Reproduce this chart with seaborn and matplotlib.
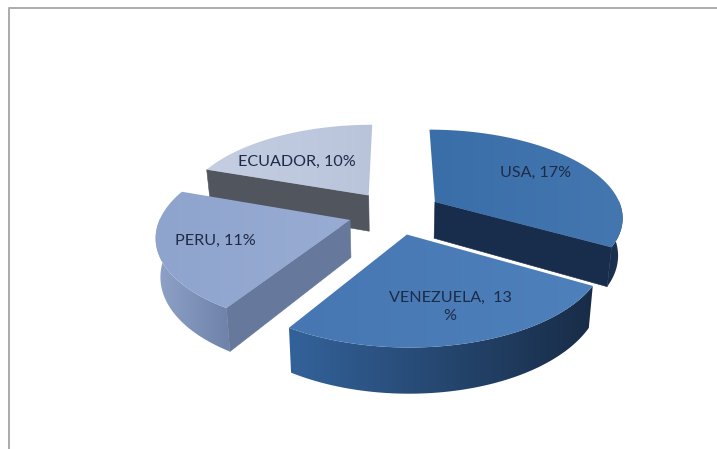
import numpy as np
import matplotlib
matplotlib.use("Agg")
import matplotlib.pyplot as plt
from matplotlib.patches import Polygon
import seaborn as sns

# -----------------------------
# DATA
# -----------------------------

countries = ["USA", "VENEZUELA", "PERU", "ECUADOR"]
percents = [17, 13, 11, 10]
label_texts = ["USA, 17%", "VENEZUELA,  13\n%", "PERU, 11%", "ECUADOR, 10%"]

# -----------------------------
# STYLE
# -----------------------------

sns.set_theme(style="white")
plt.rcParams["font.family"] = ["Lato", "DejaVu Sans"]

top_colors = [("#3A6EA8", "#4477B0"), ("#4677B3", "#4E80BC"), ("#8FA4CD", "#98ACD3"), ("#C5CEE2", "#B9C4DB")]
face_colors = ["#182C4B", None, "#66799C", "#50555E"]
arc_colors = [("#1A2E4D", "#1E3552"), ("#33629A", "#182C47"), ("#8FA3C9", "#6E82A9"), ("#50555E", "#50555E")]
label_spots = [(536, 173), (450, 307), (215, 241), (297, 162)]

# projection of the tilted pie onto the 717x449 picture
CX, CY = 395, 212.6
RX, RY = 188, 87
PERSP = 0.16
DEPTH = 37
EXPLODE = 0.25


def project(u, v, down=0.0):
    s = 1 / (1 + PERSP * v)
    x = CX + RX * u * s
    y = CY - RY * v * s + down * s
    if down > 0:
        x = CX + (x - CX) * 0.98
    return x, y


def edge(angles, off, down=0.0):
    u = off[0] + np.cos(angles)
    v = off[1] + np.sin(angles)
    return np.column_stack(project(u, v, down))


def fill_gradient(ax, outline, colors, zorder):
    # left to right gradient clipped to a polygon
    patch = Polygon(outline, closed=True, fc="none", ec="none", zorder=zorder)
    ax.add_patch(patch)
    pal = np.array(sns.blend_palette(colors, 64))[:, :3]
    box = (outline[:, 0].min() - 1, outline[:, 0].max() + 1, outline[:, 1].max() + 1, outline[:, 1].min() - 1)
    im = ax.imshow(pal[np.newaxis, :, :], extent=box, aspect="auto", zorder=zorder, interpolation="bilinear")
    im.set_clip_path(patch)


# -----------------------------
# GRAPH
# -----------------------------

fig = plt.figure(figsize=(7.17, 4.49), dpi=100, facecolor="white")
ax = fig.add_axes([0, 0, 1, 1])

# clockwise from twelve o'clock
shares = np.array(percents) / sum(percents) * 2 * np.pi
ends = np.pi / 2 - np.cumsum(shares)
starts = ends + shares

# back slices first
for i in [3, 0, 2, 1]:
    t0, t1 = starts[i], ends[i]
    mid = (t0 + t1) / 2
    off = (EXPLODE * np.cos(mid), EXPLODE * np.sin(mid))
    apex_top = np.array(project(off[0], off[1]))
    apex_low = np.array(project(off[0], off[1], DEPTH))

    # radial walls that face the viewer
    for t, normal in [(t0, t0 + np.pi / 2), (t1, t1 - np.pi / 2)]:
        if np.sin(normal) < -1e-6:
            low_end = edge(np.array([t]), off, DEPTH)[0]
            top_end = edge(np.array([t]), off)[0]
            ax.add_patch(Polygon([apex_top, top_end, low_end, apex_low], closed=True,
                                 fc=face_colors[i], ec=face_colors[i], lw=0.4, zorder=2))

    # outer wall, only the lower half of the rim shows
    arc = np.linspace(t1, t0, 90)
    arc = arc[np.sin(arc) < 0.02]
    if len(arc) > 1:
        wall = np.vstack([edge(arc, off), edge(arc, off, DEPTH)[::-1]])
        fill_gradient(ax, wall, arc_colors[i], 2)

    # top surface
    rim = edge(np.linspace(t0, t1, 120), off)
    fill_gradient(ax, np.vstack([apex_top, rim]), top_colors[i], 3)

    ax.text(label_spots[i][0], label_spots[i][1], label_texts[i], ha="center", va="center",
            fontsize=11.6, color="#1D2B47", linespacing=1.3, zorder=5)

# chart frame
ax.plot([8.5, 8.5, 717], [449, 7.5, 7.5], color="#ABABAB", lw=1.4, zorder=6)

ax.set_xlim(0, 717)
ax.set_ylim(449, 0)
ax.axis("off")

plt.savefig("out.png", dpi=100)
